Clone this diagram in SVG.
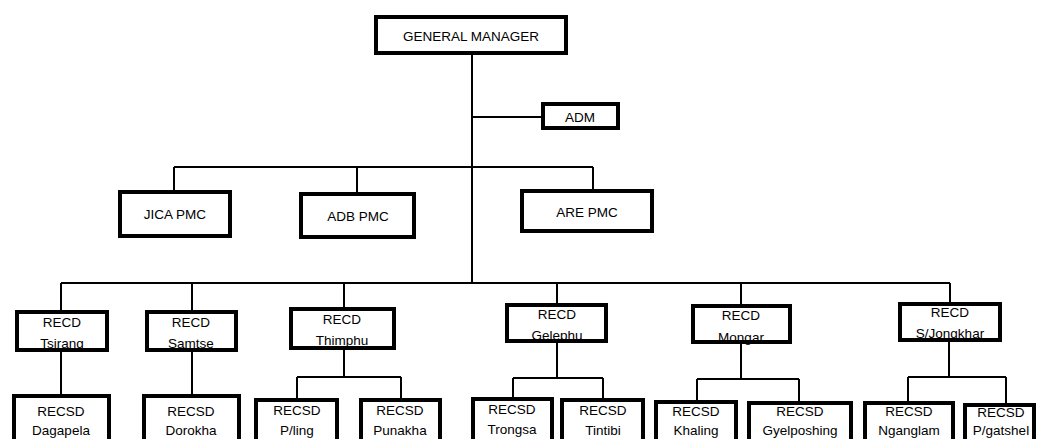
<svg xmlns="http://www.w3.org/2000/svg" width="1040" height="439" viewBox="0 0 1040 439">
<style>
.box{fill:#fff;stroke:#000;stroke-width:4}
.ln{fill:none;stroke:#000;stroke-width:2}
text{font-family:"Liberation Sans",Arial,sans-serif;font-size:13.5px;fill:#000;text-anchor:middle}
</style>
<rect width="1040" height="439" fill="#fff"/>
<g id="connectors">
<path class="ln" d="M472 55V284M472 117H541"/>
<path class="ln" d="M174 167H593M174 167V190M357 167V192M593 167V189"/>
<path class="ln" d="M61 283H950M61 283V310M192 283V310M344 283V307M557 283V303M741 283V304M950 283V302"/>
<path class="ln" d="M61 352V394M192 352V394"/>
<path class="ln" d="M344 350V377M297 377H401M297 377V398M401 377V398"/>
<path class="ln" d="M557 343V378M513 378H603M513 378V397M603 378V398"/>
<path class="ln" d="M741 344V379M697 379H799M697 379V400M799 379V401"/>
<path class="ln" d="M949 342V377M908 377H1006M908 377V401M1006 377V403"/>
</g>
<g id="gm"><rect class="box" x="376" y="17" width="190" height="36"/><text x="471" y="41">GENERAL MANAGER</text></g>
<g id="adm"><rect class="box" x="543" y="104" width="75" height="24"/><text x="580" y="122">ADM</text></g>
<g id="jica"><rect class="box" x="120" y="192" width="110" height="44"/><text x="175" y="219">JICA PMC</text></g>
<g id="adb"><rect class="box" x="301" y="194" width="113" height="43"/><text x="358" y="221">ADB PMC</text></g>
<g id="are"><rect class="box" x="522" y="191" width="130" height="40"/><text x="587" y="217">ARE PMC</text></g>
<g id="recd-tsirang"><rect class="box" x="17" y="312" width="90" height="38"/><text x="62" y="327">RECD</text><text x="62" y="348">Tsirang</text></g>
<g id="recd-samtse"><rect class="box" x="147" y="312" width="89" height="38"/><text x="191" y="327">RECD</text><text x="191" y="348">Samtse</text></g>
<g id="recd-thimphu"><rect class="box" x="291" y="309" width="103" height="39"/><text x="342" y="324">RECD</text><text x="342" y="345">Thimphu</text></g>
<g id="recd-gelephu"><rect class="box" x="507" y="305" width="99" height="36"/><text x="557" y="319">RECD</text><text x="557" y="340">Gelephu</text></g>
<g id="recd-mongar"><rect class="box" x="693" y="306" width="97" height="36"/><text x="741" y="320">RECD</text><text x="741" y="342">Mongar</text></g>
<g id="recd-sjongkhar"><rect class="box" x="900" y="304" width="100" height="36"/><text x="950" y="317">RECD</text><text x="950" y="338">S/Jongkhar</text></g>
<g id="recsd-dagapela"><rect class="box" x="14" y="396" width="95" height="60"/><text x="61" y="416">RECSD</text><text x="61" y="435">Dagapela</text></g>
<g id="recsd-dorokha"><rect class="box" x="144" y="396" width="95" height="60"/><text x="191" y="416">RECSD</text><text x="191" y="435">Dorokha</text></g>
<g id="recsd-pling"><rect class="box" x="256" y="400" width="81" height="60"/><text x="297" y="415">RECSD</text><text x="297" y="435">P/ling</text></g>
<g id="recsd-punakha"><rect class="box" x="361" y="400" width="79" height="60"/><text x="400" y="415">RECSD</text><text x="400" y="435">Punakha</text></g>
<g id="recsd-trongsa"><rect class="box" x="473" y="399" width="79" height="60"/><text x="512" y="414">RECSD</text><text x="512" y="434">Trongsa</text></g>
<g id="recsd-tintibi"><rect class="box" x="562" y="400" width="81" height="60"/><text x="603" y="415">RECSD</text><text x="603" y="435">Tintibi</text></g>
<g id="recsd-khaling"><rect class="box" x="656" y="402" width="80" height="60"/><text x="696" y="416">RECSD</text><text x="696" y="435">Khaling</text></g>
<g id="recsd-gyelposhing"><rect class="box" x="749" y="403" width="102" height="60"/><text x="800" y="416">RECSD</text><text x="800" y="435">Gyelposhing</text></g>
<g id="recsd-nganglam"><rect class="box" x="865" y="403" width="88" height="60"/><text x="909" y="416">RECSD</text><text x="909" y="435">Nganglam</text></g>
<g id="recsd-pgatshel"><rect class="box" x="965" y="405" width="69" height="60"/><text x="1001" y="417">RECSD</text><text x="1001" y="435">P/gatshel</text></g>
</svg>
